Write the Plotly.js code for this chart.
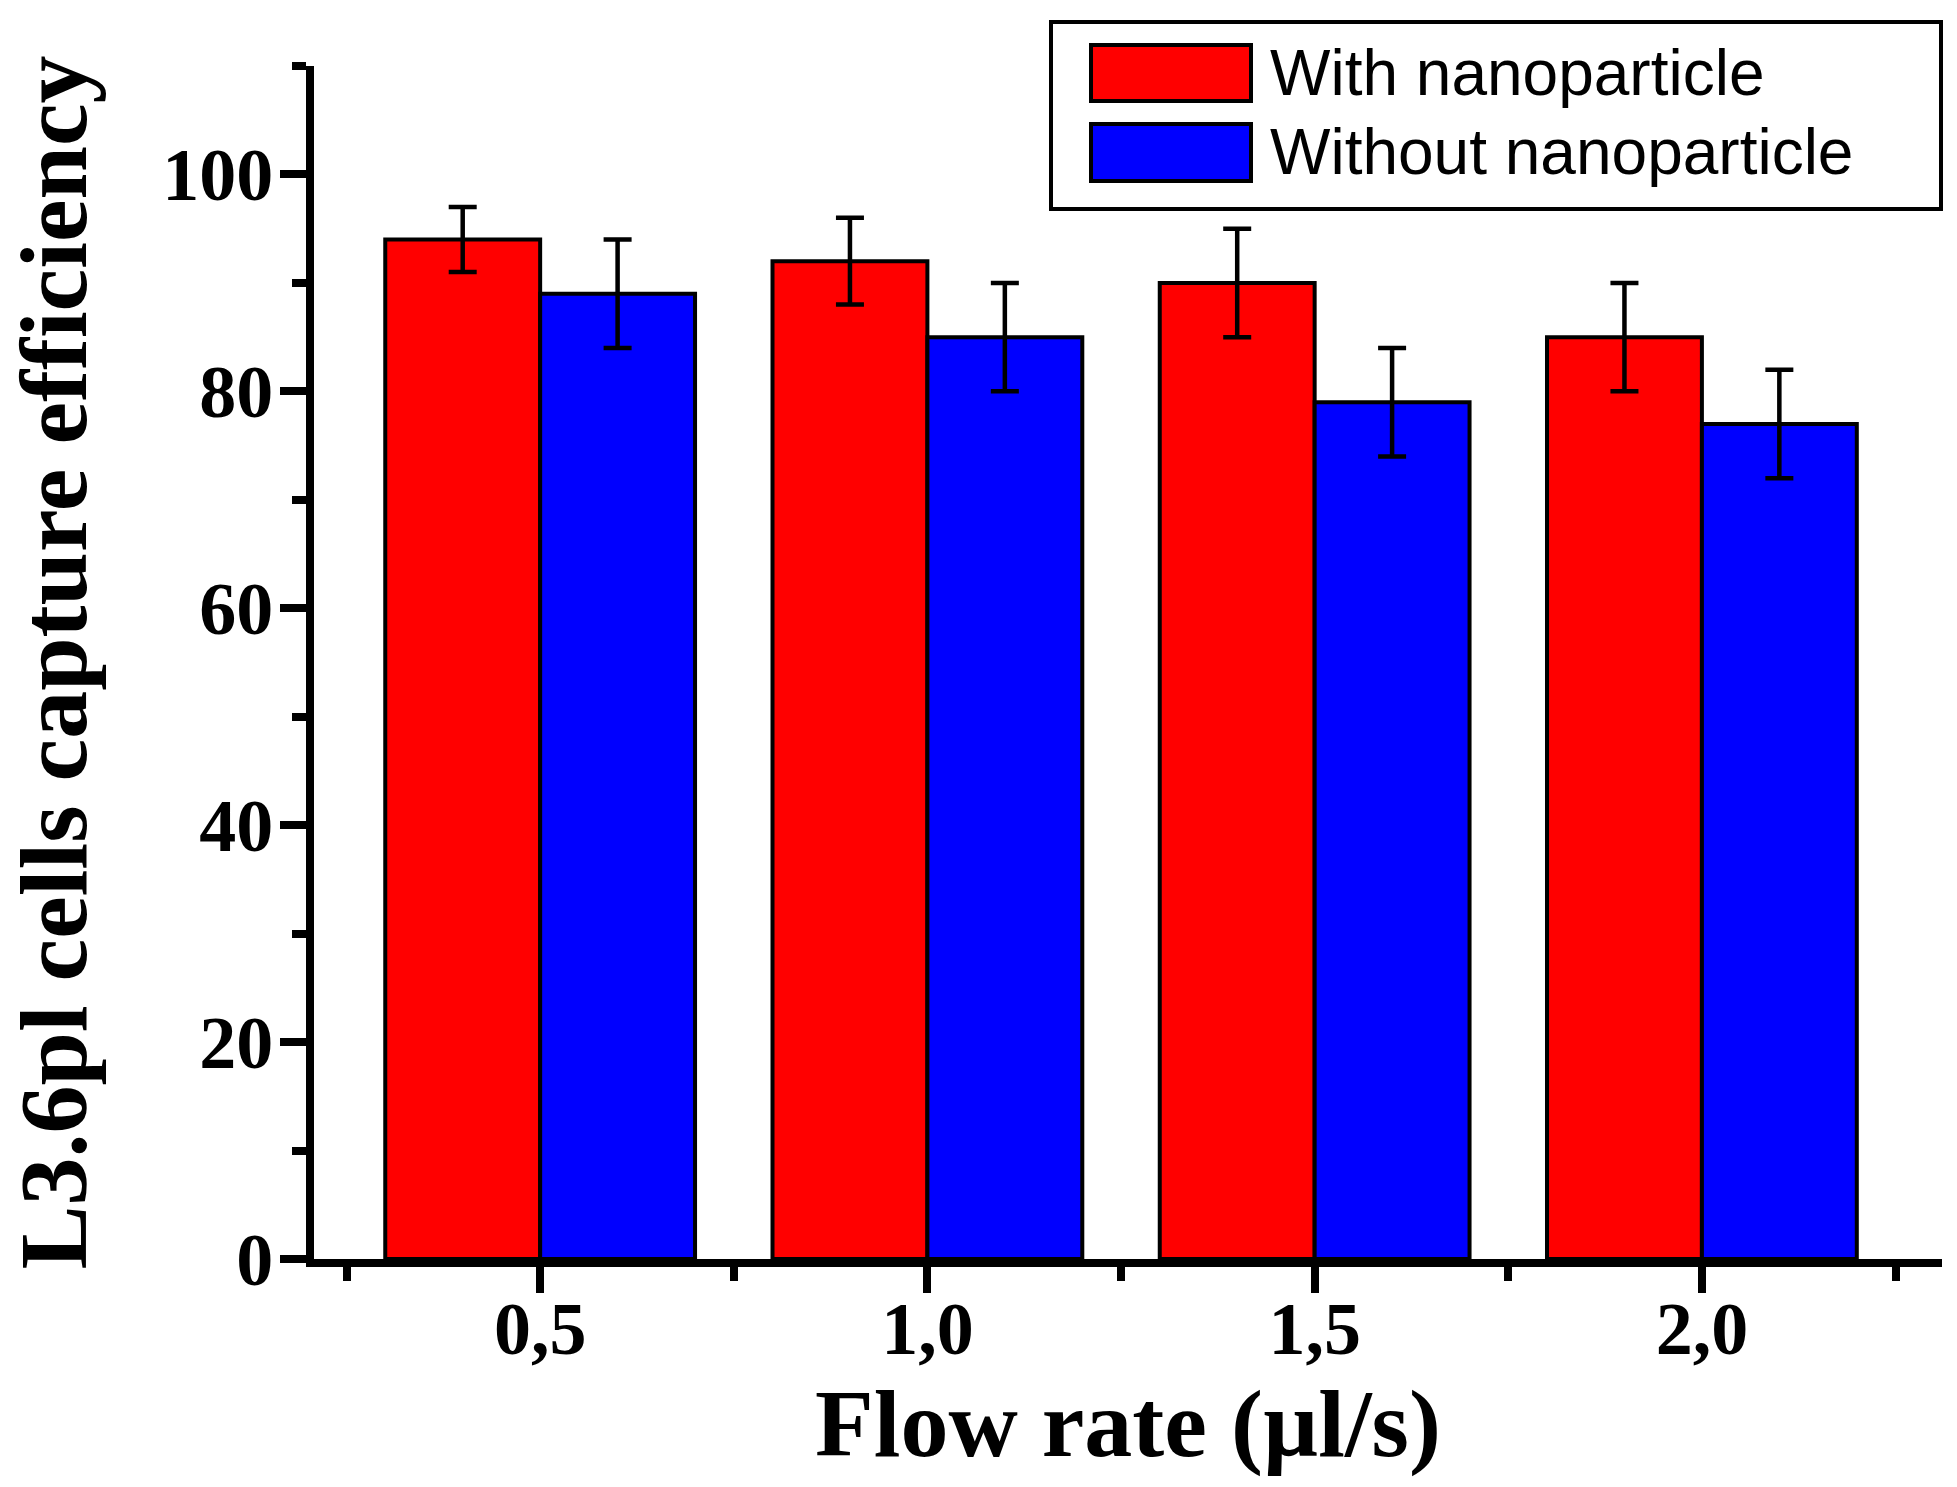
<!DOCTYPE html>
<html>
<head>
<meta charset="utf-8">
<script src="https://cdn.plot.ly/plotly-3.0.1.min.js"></script>
<style>
  body { margin: 0; background: #fff; }
  #myChart { width: 1957px; height: 1487px; }
</style>
</head>
<body>
<div id="myChart"></div>
<script>
// flow rates (µl/s)
const flowRates = [0.5, 1.0, 1.5, 2.0];
const flowLabels = ["0,5", "1,0", "1,5", "2,0"];
const minorFlow = [0.25, 0.75, 1.25, 1.75, 2.25];

const seriesNames = ["With nanoparticle", "Without nanoparticle"];
const withNano = [94, 92, 90, 85];
const withNanoErr = [3, 4, 5, 5];
const withoutNano = [89, 85, 79, 77];
const withoutNanoErr = [5, 5, 5, 5];

const colors = ["#ff0000", "#0000ff"];

const W = 1957, H = 1487;
const margin = { l: 314, r: 15, t: 66, b: 228 };
const plotW = W - margin.l - margin.r;
const plotH = H - margin.t - margin.b;

// pixel -> paper coords (for the hand-made legend)
function px(x) { return (x - margin.l) / plotW; }
function py(y) { return (H - margin.b - y) / plotH; }

const serif = { family: "Liberation Serif, Times New Roman, serif", color: "black", weight: "bold" };

function barTrace(name, y, err, color) {
  return {
    type: "bar",
    name: name,
    x: flowRates,
    y: y,
    marker: { color: color, line: { color: "black", width: 4 } },
    error_y: { type: "data", array: err, visible: true, color: "black", thickness: 4.5, width: 14 },
    showlegend: false
  };
}

const data = [
  barTrace(seriesNames[0], withNano, withNanoErr, colors[0]),
  barTrace(seriesNames[1], withoutNano, withoutNanoErr, colors[1])
];

// legend drawn by hand so the swatches can be big like the original
const shapes = [{
  type: "rect", xref: "paper", yref: "paper",
  x0: px(1051), x1: px(1941), y0: py(209), y1: py(22),
  line: { color: "black", width: 4 }, fillcolor: "white"
}];
const annotations = [];
const rows = [[45, 101], [124, 181]];
for (let i = 0; i < seriesNames.length; i++) {
  shapes.push({
    type: "rect", xref: "paper", yref: "paper",
    x0: px(1091), x1: px(1251), y0: py(rows[i][1]), y1: py(rows[i][0]),
    line: { color: "black", width: 4 }, fillcolor: colors[i]
  });
  annotations.push({
    xref: "paper", yref: "paper", showarrow: false,
    x: px(1268), y: py((rows[i][0] + rows[i][1]) / 2),
    xanchor: "left", yanchor: "middle",
    text: seriesNames[i],
    font: { family: "Liberation Sans, Arial, sans-serif", size: 64, color: "black" }
  });
}

const layout = {
  width: W,
  height: H,
  margin: margin,
  paper_bgcolor: "white",
  plot_bgcolor: "white",
  barmode: "group",
  bargap: 0.2,
  bargroupgap: 0,
  showlegend: false,
  xaxis: {
    range: [0.208, 2.31],
    showline: true, linewidth: 8, linecolor: "black",
    showgrid: false, zeroline: false,
    ticks: "outside", ticklen: 26, tickwidth: 8, tickcolor: "black",
    tickmode: "array", tickvals: flowRates, ticktext: flowLabels,
    tickfont: Object.assign({ size: 74 }, serif),
    ticklabelstandoff: -28,
    minor: { tickmode: "array", tickvals: minorFlow, ticks: "outside", ticklen: 14, tickwidth: 8, tickcolor: "black" },
    title: { text: "Flow rate (\u00b5l/s)", font: Object.assign({ size: 96 }, serif), standoff: 0 }
  },
  yaxis: {
    range: [0, 110],
    showline: true, linewidth: 8, linecolor: "black",
    showgrid: false, zeroline: false,
    ticks: "outside", ticklen: 26, tickwidth: 8, tickcolor: "black",
    tick0: 0, dtick: 20,
    tickfont: Object.assign({ size: 74 }, serif),
    ticklabelstandoff: -8,
    minor: { tick0: 0, dtick: 10, ticks: "outside", ticklen: 14, tickwidth: 8, tickcolor: "black" },
    title: { text: "L3.6pl cells capture efficiency", font: Object.assign({ size: 96 }, serif), standoff: 48 }
  },
  shapes: shapes,
  annotations: annotations
};

const config = { staticPlot: true };

Plotly.newPlot("myChart", data, layout, config);
</script>
</body>
</html>
